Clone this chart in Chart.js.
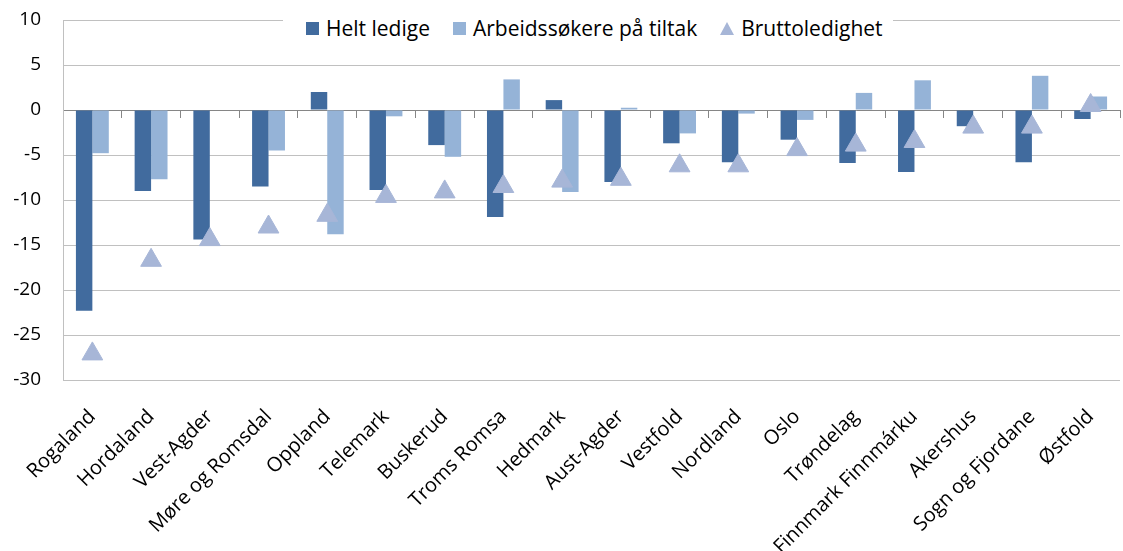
<!DOCTYPE html>
<html lang="no">
<head>
<meta charset="utf-8">
<title>Endring i ledighet etter fylke</title>
<script src="https://cdn.jsdelivr.net/npm/chart.js@4.4.1/dist/chart.umd.min.js"></script>
<style>
  html, body { margin:0; padding:0; background:#fff; overflow:hidden; }
  #wrap { position:relative; width:1133px; height:551px; }
  #legend {
    position:absolute; top:12px; left:283px; width:610px; height:32px;
    background:#fff; display:flex; align-items:center; box-sizing:border-box;
    padding-left:23px; font:21px "Open Sans", sans-serif; color:#000;
  }
  .item { display:flex; align-items:center; margin-right:23px; white-space:nowrap; }
  .box { width:13px; height:13px; margin-right:7px; }
  .tri { width:0; height:0; margin-right:7px;
         border-left:7px solid transparent; border-right:7px solid transparent;
         border-bottom-width:13px; border-bottom-style:solid; }
</style>
</head>
<body>
<div id="wrap">
  <canvas id="chart"></canvas>
  <div id="legend"></div>
</div>
<script>
const regions = [
  "Rogaland", "Hordaland", "Vest-Agder", "Møre og Romsdal", "Oppland", "Telemark",
  "Buskerud", "Troms Romsa", "Hedmark", "Aust-Agder", "Vestfold", "Nordland",
  "Oslo", "Trøndelag", "Finnmark Finnmárku", "Akershus", "Sogn og Fjordane", "Østfold"
];
const heltLedige = [-22.3, -9.0, -14.4, -8.5, 2.0, -8.9, -3.9, -11.9, 1.1, -8.0, -3.7, -5.8, -3.3, -5.9, -6.9, -1.8, -5.8, -1.0];
const tiltak     = [-4.8, -7.7, 0, -4.5, -13.8, -0.7, -5.2, 3.4, -9.1, 0.25, -2.6, -0.4, -1.1, 1.9, 3.3, 0, 3.8, 1.5];
const brutto     = [-27.1, -16.7, -14.4, -13.0, -11.7, -9.6, -9.1, -8.5, -7.9, -7.7, -6.2, -6.2, -4.4, -3.9, -3.5, -1.9, -1.9, 0.5];
const seriesNames = ["Helt ledige", "Arbeidssøkere på tiltak", "Bruttoledighet"];
const yMin = -30, yMax = 10, yStep = 5;

const darkBlue = "#416B9E";
const lightBlue = "#95B3D7";
const triBlue = "#A7B6D7";

Chart.defaults.font.family = "'Open Sans', sans-serif";
Chart.defaults.font.size = 19;
Chart.defaults.color = "#000";

const chart = new Chart(document.getElementById("chart"), {
  type: "bar",
  data: {
    labels: regions,
    datasets: [
      { label: seriesNames[0], data: heltLedige, backgroundColor: darkBlue, xAxisID: "x", order: 1,
        categoryPercentage: 0.56, barPercentage: 1 },
      { label: seriesNames[1], data: tiltak, backgroundColor: lightBlue, xAxisID: "x", order: 1,
        categoryPercentage: 0.56, barPercentage: 1 },
      { type: "line", label: seriesNames[2], data: brutto, xAxisID: "x", order: 0,
        showLine: false, pointStyle: "triangle", pointRadius: 12, pointHoverRadius: 12,
        backgroundColor: triBlue, borderColor: triBlue, pointBorderWidth: 1 }
    ]
  },
  options: {
    responsive: true,
    maintainAspectRatio: false,
    animation: false,
    layout: { padding: { top: 20, right: 1, left: 0, bottom: 0 } },
    plugins: { legend: { display: false }, tooltip: { enabled: false } },
    scales: {
      x: {
        grid: { display: false, drawTicks: false },
        border: { display: false },
        ticks: { autoSkip: false, minRotation: 45, maxRotation: 45, padding: 25, font: { size: 20 } },
        afterFit(s) { s.height = 171; }
      },
      x2: {
        type: "category",
        position: { y: 0 },
        offset: true,
        grid: { drawOnChartArea: false, offset: true, tickLength: 7, color: "#868686" },
        border: { color: "#868686" },
        ticks: { display: false }
      },
      y: {
        min: yMin, max: yMax,
        // gap to the labels comes from an invisible tick mark; ticks.padding would push the plot down
        ticks: { stepSize: yStep, padding: 0 },
        grid: { color: "#C0C0C0", tickColor: "transparent", tickLength: 22 },
        border: { color: "#C0C0C0" },
        afterFit(s) { s.width = 63; }
      }
    }
  }
});

// legend drawn as html on a white box over the top gridline, like the original
document.getElementById("legend").innerHTML = chart.data.datasets.map(ds => {
  const mark = ds.type === "line"
    ? `<span class="tri" style="border-bottom-color:${ds.backgroundColor}"></span>`
    : `<span class="box" style="background:${ds.backgroundColor}"></span>`;
  return `<span class="item">${mark}${ds.label}</span>`;
}).join("");
</script>
</body>
</html>
